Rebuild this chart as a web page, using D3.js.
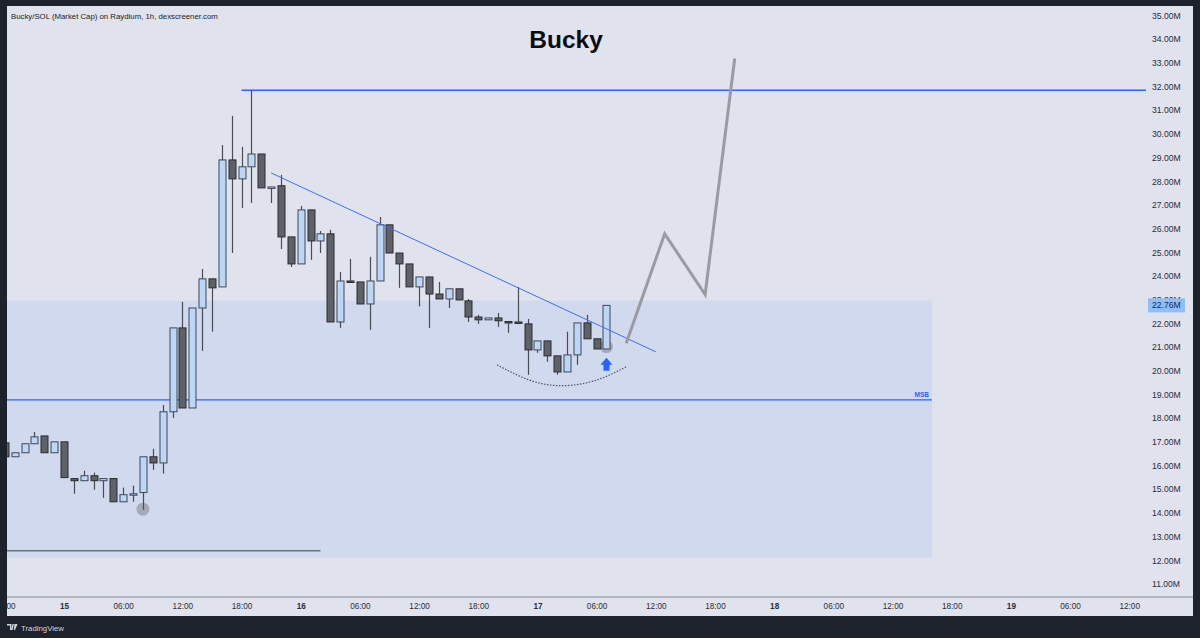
<!DOCTYPE html>
<html><head><meta charset="utf-8">
<script src="https://cdn.jsdelivr.net/npm/d3@7"></script>
<style>html,body{margin:0;padding:0;background:#1e222d;}svg{display:block;}</style>
</head><body>
<svg id="chart" width="1200" height="638"></svg>
<script>
// ---- data (hours relative to day 15, 00:00) ----
const hours = [-6,-5,-4,-3,-2,-1,0,1,2,3,4,5,6,7,8,9,10,11,12,13,14,15,16,17,18,19,20,21,22,23,24,25,26,27,28,29,30,31,32,33,34,35,36,37,38,39,40,41,42,43,44,45,46,47,48,49,50,51,52,53,54,55];
const open  = [16.96,16.37,16.54,16.92,17.25,16.54,17.00,15.45,15.36,15.57,15.36,15.45,14.47,14.77,14.86,16.37,16.11,18.27,21.81,18.43,22.65,23.88,23.54,28.90,28.10,28.61,29.15,27.72,27.81,25.65,24.51,26.79,25.48,25.78,22.06,23.79,23.75,22.82,23.79,26.16,24.97,24.51,23.54,23.96,23.24,23.03,23.46,22.95,22.27,22.15,22.23,22.08,22.06,21.98,20.88,21.26,20.63,19.95,20.67,22.02,21.35,20.92];
const close = [16.37,16.54,16.92,17.21,16.54,17.00,15.49,15.36,15.57,15.36,15.45,14.47,14.77,14.81,16.37,16.11,18.27,21.81,18.43,22.65,23.88,23.50,28.90,28.10,28.61,29.15,27.72,27.76,25.65,24.51,26.79,25.48,25.78,22.06,23.79,23.75,22.82,23.79,26.16,24.97,24.51,23.54,23.96,23.24,23.03,23.46,22.99,22.27,22.15,22.23,22.11,22.06,22.02,20.88,21.26,20.63,19.95,20.67,22.02,21.35,20.92,22.76];
const high  = [16.96,16.54,16.92,17.42,17.25,17.00,17.00,15.45,15.78,15.70,15.45,15.45,15.07,15.15,16.37,16.71,18.56,21.81,22.91,22.65,24.30,23.88,29.53,30.76,29.45,31.81,29.15,27.76,28.27,25.65,26.96,26.79,25.90,25.95,24.17,24.72,23.75,24.81,26.49,26.16,24.97,24.51,23.96,23.96,23.75,23.46,23.46,23.03,22.36,22.23,22.44,22.08,23.54,22.19,21.26,21.26,20.63,21.65,22.02,22.36,21.35,22.76];
const low   = [16.37,16.37,16.54,16.92,16.54,16.54,15.49,14.81,15.36,14.98,14.64,14.47,14.47,14.47,14.13,15.82,15.66,18.01,18.43,18.43,20.84,21.65,23.54,24.97,26.87,27.08,27.72,27.08,25.14,24.38,24.51,24.68,24.97,22.06,21.81,23.75,22.82,21.73,23.79,24.97,23.50,23.54,22.72,21.81,23.03,22.65,22.99,22.06,21.98,22.15,21.85,21.60,22.02,19.83,20.76,20.38,19.83,19.95,20.25,21.35,20.92,20.92];

const priceTicks = [11,12,13,14,15,16,17,18,19,20,21,22,23,24,25,26,27,28,29,30,31,32,33,34,35];
const timeTickHours  = [-6,0,6,12,18,24,30,36,42,48,54,60,66,72,78,84,90,96,102,108];
const timeTickLabels = ["18:00","15","06:00","12:00","18:00","16","06:00","12:00","18:00","17","06:00","12:00","18:00","18","06:00","12:00","18:00","19","06:00","12:00"];
const lastPrice = 22.76;

// annotations (hour, value)
const resistanceLevel = {h0:18, v:31.84};
const msbLevel = {h1:88, v:18.77};
const zone = {h1:88, top:22.96, bottom:12.10};
const baseLine = {h1:26, v:12.40};
const trendLine = [[21.0,28.35],[60.0,20.80]];
const projection = [[57.0,21.16],[60.9,25.78],[65.0,23.22],[68.0,33.18]];
const arcPts = [[43.9,20.25],[47.1,19.62],[50.3,19.37],[53.8,19.58],[57.0,20.17]];
const circles = [[8,14.16],[55,21.02]];
const arrowAt = [55,20.25];

// ---- layout ----
const FONT = "Liberation Sans, Arial, sans-serif";
const svg = d3.select("#chart");
const P = {left:7, top:6, right:1193, bottom:616, plotRight:1146, axisY:597};
const x = d3.scaleLinear().domain([-5.78,109.7]).range([P.left,P.plotRight]);
const y = d3.scaleLinear().domain([11,35]).range([584,15.4]);

svg.append("rect").attr("x",P.left).attr("y",P.top).attr("width",P.right-P.left).attr("height",P.bottom-P.top).attr("fill","#e0e3ee");

const defs = svg.append("defs");
defs.append("clipPath").attr("id","plotclip").append("rect")
  .attr("x",P.left).attr("y",P.top).attr("width",P.plotRight-P.left).attr("height",P.axisY-P.top);
const g = svg.append("g").attr("clip-path","url(#plotclip)");

// zone
g.append("rect").attr("x",P.left).attr("y",y(zone.top)).attr("width",x(zone.h1)-P.left)
 .attr("height",y(zone.bottom)-y(zone.top)).attr("fill","rgba(41,98,255,0.08)");
// base line
g.append("line").attr("x1",P.left).attr("x2",x(baseLine.h1)).attr("y1",y(baseLine.v)).attr("y2",y(baseLine.v))
 .attr("stroke","#3a3d47").attr("stroke-width",1);
// MSB line
g.append("line").attr("x1",P.left).attr("x2",x(msbLevel.h1)).attr("y1",y(msbLevel.v)).attr("y2",y(msbLevel.v))
 .attr("stroke","#2962ff").attr("stroke-width",1.3);
g.append("text").attr("x",x(msbLevel.h1)-3).attr("y",y(msbLevel.v)-3).attr("text-anchor","end")
 .attr("font-family",FONT).attr("font-size",6.5).attr("font-weight","bold").attr("fill","#2962ff").text("MSB");
// resistance
g.append("line").attr("x1",x(resistanceLevel.h0)).attr("x2",P.plotRight).attr("y1",y(resistanceLevel.v)).attr("y2",y(resistanceLevel.v))
 .attr("stroke","#2962ff").attr("stroke-width",1.3);

// circles
g.selectAll("circle.mark").data(circles).join("circle").attr("class","mark")
 .attr("cx",d=>x(d[0])).attr("cy",d=>y(d[1])).attr("r",6.5).attr("fill","rgba(110,113,125,0.45)");

// candles
const candles = hours.map((h,i)=>({h,o:open[i],c:close[i],hi:high[i],lo:low[i]}));
const cg = g.append("g");
cg.selectAll("line.wick").data(candles).join("line").attr("class","wick")
 .attr("x1",d=>Math.round(x(d.h))+0.5).attr("x2",d=>Math.round(x(d.h))+0.5)
 .attr("y1",d=>y(d.hi)).attr("y2",d=>y(d.lo)).attr("stroke","#4a4c54").attr("stroke-width",1.2);
cg.selectAll("rect.body").data(candles).join("rect").attr("class","body")
 .attr("x",d=>Math.round(x(d.h))-3).attr("width",7)
 .attr("y",d=>y(Math.max(d.o,d.c)))
 .attr("height",d=>Math.max(1.5,Math.abs(y(d.o)-y(d.c))))
 .attr("fill",d=>d.c>=d.o?"#bcd6f6":"#5f6169")
 .attr("stroke",d=>d.c>=d.o?"#3f4756":"#2b2c31").attr("stroke-width",1);

// trend line
g.append("line").attr("x1",x(trendLine[0][0])).attr("y1",y(trendLine[0][1]))
 .attr("x2",x(trendLine[1][0])).attr("y2",y(trendLine[1][1])).attr("stroke","#3f6ef0").attr("stroke-width",1);

// arc (dotted)
g.append("path").datum(arcPts).attr("d",d3.line().x(d=>x(d[0])).y(d=>y(d[1])).curve(d3.curveNatural))
 .attr("fill","none").attr("stroke","#55575f").attr("stroke-width",1.2).attr("stroke-dasharray","1.5,1.5");

// projection path
g.append("path").datum(projection).attr("d",d3.line().x(d=>x(d[0])).y(d=>y(d[1])))
 .attr("fill","none").attr("stroke","#9a9ba1").attr("stroke-width",3).attr("stroke-linejoin","miter");

// arrow
const ax = x(arrowAt[0]), ay = y(arrowAt[1]);
g.append("path").attr("d",`M${ax-6},${ay} L${ax},${ay-7} L${ax+6},${ay} L${ax+3},${ay} L${ax+3},${ay+6} L${ax-3},${ay+6} L${ax-3},${ay} Z`)
 .attr("fill","#2962ff");

// title
svg.append("text").attr("x",566).attr("y",48).attr("text-anchor","middle")
 .attr("font-family",FONT).attr("font-size",24.5).attr("font-weight","bold").attr("fill","#0b0c10").text("Bucky");
svg.append("text").attr("x",11).attr("y",18.5)
 .attr("font-family",FONT).attr("font-size",7.8).attr("fill","#1a1c22")
 .text("Bucky/SOL (Market Cap) on Raydium, 1h, dexscreener.com");

// axes
svg.append("line").attr("x1",P.left).attr("x2",P.right).attr("y1",P.axisY).attr("y2",P.axisY).attr("stroke","#858892").attr("stroke-width",1);

const ya = svg.append("g").attr("transform",`translate(${P.plotRight+2},0)`)
 .call(d3.axisRight(y).tickValues(priceTicks).tickSize(0).tickPadding(4).tickFormat(d=>d.toFixed(2)+"M"));
ya.select(".domain").remove();
ya.selectAll("text").attr("font-family",FONT).attr("font-size",8.6).attr("fill","#2a2d35");

// last price label
const lp = svg.append("g");
lp.append("rect").attr("x",P.plotRight+2).attr("y",y(lastPrice)-7).attr("width",37).attr("height",14).attr("fill","#8fbdf6");
lp.append("text").attr("x",P.plotRight+6).attr("y",y(lastPrice)).attr("dy","0.35em")
 .attr("font-family",FONT).attr("font-size",8.6).attr("fill","#142a5c").text(lastPrice.toFixed(2)+"M");

defs.append("clipPath").attr("id","xclip").append("rect").attr("x",P.left).attr("y",P.axisY).attr("width",P.plotRight-P.left+10).attr("height",20);
const xa = svg.append("g").attr("clip-path","url(#xclip)").append("g").attr("transform",`translate(0,${P.axisY})`)
 .call(d3.axisBottom(x).tickValues(timeTickHours).tickSize(0).tickPadding(6)
   .tickFormat((d,i)=>timeTickLabels[i]));
xa.select(".domain").remove();
xa.selectAll("text").attr("font-family",FONT).attr("font-size",8.2).attr("fill","#2a2d35")
 .attr("font-weight",(d,i)=>timeTickLabels[i].includes(":")?"normal":"bold");

// TradingView footer
const tv = svg.append("g").attr("transform","translate(7,624)");
tv.append("path").attr("d","M0,0 H4.5 V6 H3 V1.5 H0 Z M5.5,0 H7 L5.5,6 H4.3 Z M7.5,0 H10.5 L8,6 H6.8 Z").attr("fill","#d1d4dc");
tv.append("text").attr("x",14).attr("y",6.5).attr("font-family",FONT).attr("font-size",7.8).attr("fill","#d1d4dc").text("TradingView");
</script>
</body></html>
